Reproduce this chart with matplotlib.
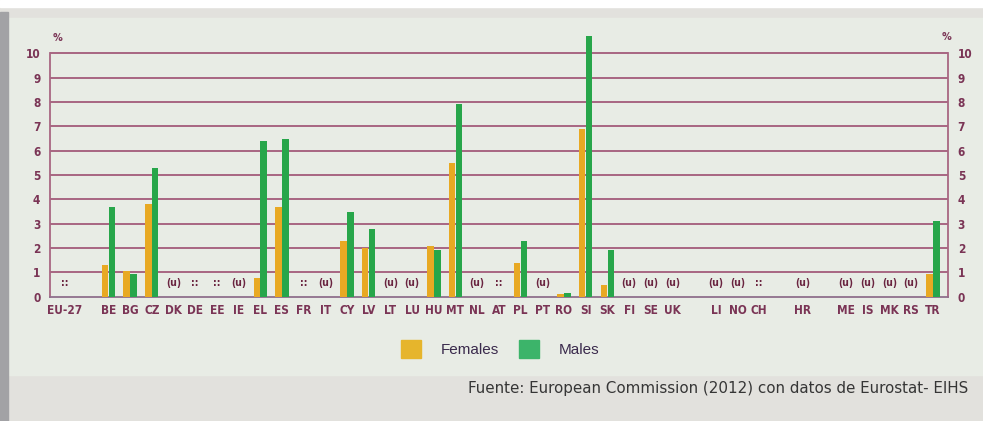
import numpy as np
import matplotlib.pyplot as plt
from matplotlib.patches import Rectangle, Patch

nan = np.nan

# '' entries are the blank slots between country groups
categories = ['EU-27', '', 'BE', 'BG', 'CZ', 'DK', 'DE', 'EE', 'IE', 'EL', 'ES',
              'FR', 'IT', 'CY', 'LV', 'LT', 'LU', 'HU', 'MT', 'NL', 'AT', 'PL',
              'PT', 'RO', 'SI', 'SK', 'FI', 'SE', 'UK', '', 'LI', 'NO', 'CH', '',
              'HR', '', 'ME', 'IS', 'MK', 'RS', 'TR']
females = [nan, nan, 1.3, 1.05, 3.8, nan, nan, nan, nan, 0.75, 3.7,
           nan, nan, 2.3, 2.0, nan, nan, 2.1, 5.5, nan, nan, 1.4,
           nan, 0.1, 6.9, 0.5, nan, nan, nan, nan, nan, nan, nan, nan,
           nan, nan, nan, nan, nan, nan, 0.95]
males = [nan, nan, 3.7, 0.95, 5.3, nan, nan, nan, nan, 6.4, 6.5,
         nan, nan, 3.5, 2.8, nan, nan, 1.9, 7.9, nan, nan, 2.3,
         nan, 0.17, 10.7, 1.9, nan, nan, nan, nan, nan, nan, nan, nan,
         nan, nan, nan, nan, nan, nan, 3.1]
# ':' not available, '(u)' unreliable
flags = ['::', '', '', '', '', '(u)', '::', '::', '(u)', '', '',
         '::', '(u)', '', '', '(u)', '(u)', '', '', '(u)', '::', '',
         '(u)', '', '', '', '(u)', '(u)', '(u)', '', '(u)', '(u)', '::', '',
         '(u)', '', '(u)', '(u)', '(u)', '(u)', '']
yticks = list(range(0, 11))

W, H = 983, 421
fig = plt.figure(figsize=(W / 100, H / 100), dpi=100)
fig.patch.set_facecolor('#e2e1dd')

# scanned page look: white strip on top, panel, left shadow
fig.add_artist(Rectangle((0, 1 - 7 / H), 1, 7 / H, transform=fig.transFigure,
                         color='white', zorder=-5))
fig.add_artist(Rectangle((8 / W, (H - 375) / H), 1, (375 - 18) / H,
                         transform=fig.transFigure, color='#e8ece5', zorder=-5))
fig.add_artist(Rectangle((0, 0), 8 / W, 1 - 12 / H, transform=fig.transFigure,
                         color='#a2a2a5', zorder=-4))

tick_font = ['DejaVu Sans']
tick_col = '#7a3455'
grid_col = '#a86682'

ax = fig.add_axes([50 / W, (H - 296.7) / H, (948 - 50) / W, (296.7 - 29) / H])
ax.patch.set_alpha(0)

x = np.arange(len(categories))
ax.bar(x - 0.16, females, 0.3, color='#e8a923', zorder=3)
ax.bar(x + 0.16, males, 0.3, color='#27a64a', zorder=3)

for i, f in enumerate(flags):
    if f:
        ax.text(i, 0.55, f, ha='center', va='center', fontsize=7.5,
                fontweight='bold', color='#6a2440', family=tick_font,
                fontstretch='condensed', zorder=4)

for v in yticks[1:]:
    ax.axhline(v, color=grid_col, lw=1.4, zorder=1)

ax.set_xlim(-0.69, 40.7)
ax.set_ylim(0, 11)
ax.set_yticks(yticks)
ax.set_xticks(x)
ax.set_xticklabels(categories)

for s in ['left', 'right']:
    ax.spines[s].set_bounds(0, 10)
    ax.spines[s].set_color(grid_col)
    ax.spines[s].set_linewidth(1.3)
ax.spines['top'].set_visible(False)
ax.spines['bottom'].set_color('#8f6f8c')
ax.spines['bottom'].set_linewidth(1.3)

ax.tick_params(axis='y', length=0, pad=7, labelright=True, colors=tick_col)
ax.tick_params(axis='x', length=0, pad=5, colors=tick_col)
for lab in ax.get_xticklabels() + ax.get_yticklabels():
    lab.set_family(tick_font)
    lab.set_fontweight('bold')
    lab.set_fontstretch('condensed')
    lab.set_fontsize(8.5)

ax.text(0.003, 10.5, '%', fontsize=7, fontweight='bold', color=tick_col,
        transform=ax.get_yaxis_transform(), family=tick_font)
ax.text(0.993, 10.55, '%', fontsize=7, fontweight='bold', color=tick_col,
        transform=ax.get_yaxis_transform(), family=tick_font)

handles = [Patch(color='#e6b52c'), Patch(color='#3cb46a')]
leg = fig.legend(handles, ['Females', 'Males'], loc='center',
                 bbox_to_anchor=(500 / W, 1 - 349 / H), ncol=2, frameon=False,
                 handlelength=1.3, handleheight=1.4, handletextpad=1.3,
                 columnspacing=1.3, prop={'family': 'Liberation Sans', 'size': 11})
for t in leg.get_texts():
    t.set_color('#3a2a4c')

fig.text(468 / W, 1 - 389 / H,
         'Fuente: European Commission (2012) con datos de Eurostat- EIHS',
         ha='left', va='center', fontsize=10.9, color='#363636', family='DejaVu Sans')

fig.savefig('out.png', dpi=100, facecolor=fig.get_facecolor())
